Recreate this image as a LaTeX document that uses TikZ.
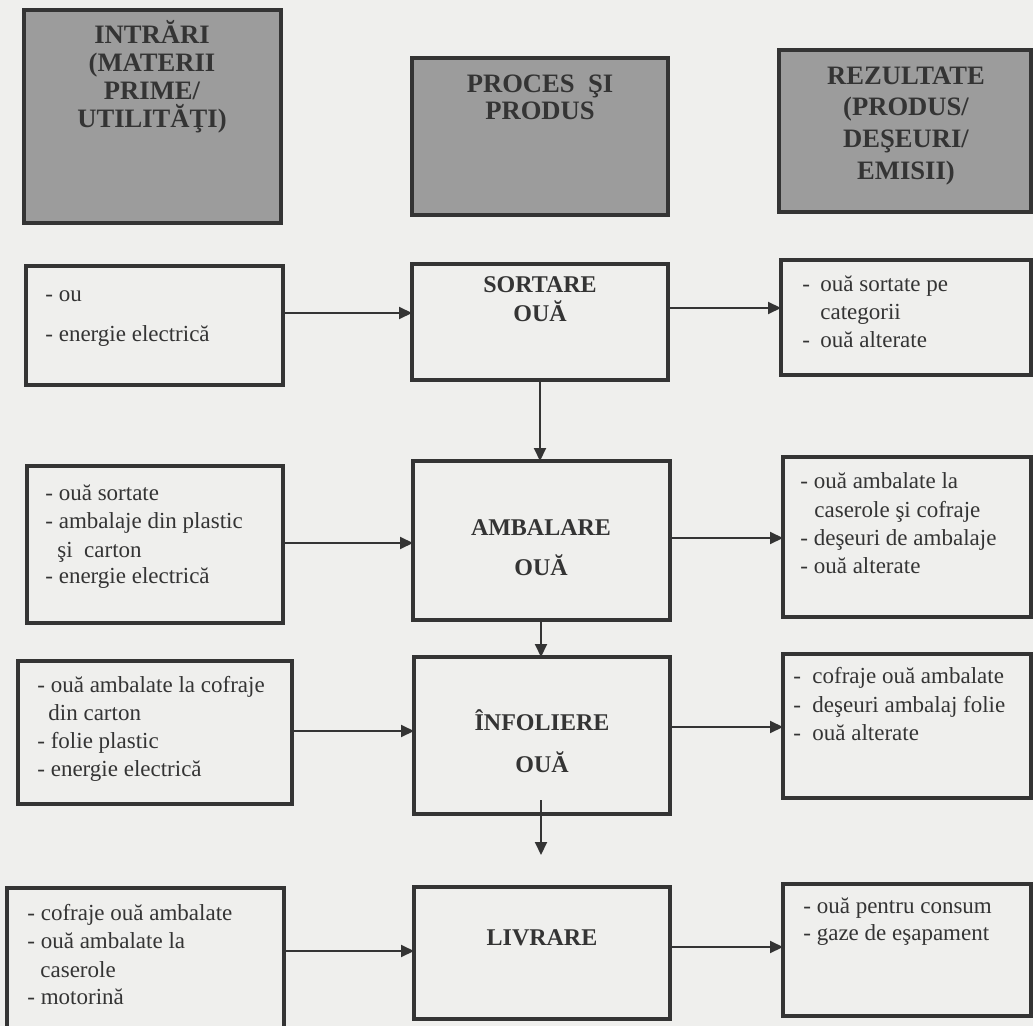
\documentclass[tikz,border=0pt]{standalone}
\usepackage{fontspec}
\setmainfont{Liberation Serif}
\usetikzlibrary{arrows.meta}
\definecolor{bg}{RGB}{239,239,237}
\definecolor{ink}{RGB}{52,52,52}
\definecolor{hdr}{RGB}{156,156,156}
\tikzset{
 boxline/.style={draw=ink, line width=1.6pt, inner sep=0pt, outer sep=0pt, rectangle},
 hdrbox/.style={boxline, fill=hdr},
 arr/.style={draw=ink, line width=1pt, -{Triangle[length=6.5pt,width=6pt]}},
 txt/.style={inner sep=0pt, anchor=base west, text=ink, font=\fontsize{11.5}{14}\selectfont},
 ctr/.style={inner sep=0pt, anchor=base, text=ink, font=\fontsize{12}{14}\selectfont\bfseries},
 htxt/.style={inner sep=0pt, anchor=base, text=ink, font=\fontsize{13.3}{14}\selectfont\bfseries},
}
\newcommand{\rbox}[6]{\node[#1, minimum width={(#4-#2)*0.5pt}, minimum height={(#5-#3)*0.5pt}] (#6) at ({(#2+#4)/2},{(#3+#5)/2}) {};}
\begin{document}
\begin{tikzpicture}[x=0.5pt,y=-0.5pt]
\clip (0,0) rectangle (1033,1026);
\fill[bg] (0,0) rectangle (1033,1026);

% header boxes
\rbox{hdrbox}{24}{10}{281}{223}{h1}
\rbox{hdrbox}{412}{58}{668}{215}{h2}
\rbox{hdrbox}{779}{50}{1031}{212}{h3}
\node[htxt] (h1a) at (152,44) {INTRĂRI};
\node[htxt] (h1b) at (152,72) {(MATERII};
\node[htxt] (h1c) at (152,100) {PRIME/};
\node[htxt] (h1d) at (152,128) {UTILITĂŢI)};
\node[htxt] (h2a) at (540,93) {PROCES\ \ ŞI};
\node[htxt] (h2b) at (540,120) {PRODUS};
\node[htxt] (h3a) at (906,85) {REZULTATE};
\node[htxt] (h3b) at (906,116) {(PRODUS/};
\node[htxt] (h3c) at (906,148) {DEŞEURI/};
\node[htxt] (h3d) at (906,180) {EMISII)};

% row 1
\rbox{boxline}{26}{266}{283}{385}{l1}
\rbox{boxline}{412}{264}{668}{380}{s1}
\rbox{boxline}{781}{260}{1031}{375}{r1}
\node[txt] (l1a) at (45,302) {- ou};
\node[txt] (l1b) at (45,342) {- energie electrică};
\node[ctr] (s1a) at (540,293) {SORTARE};
\node[ctr] (s1b) at (540,322) {OUĂ};
\node[txt] (r1d1) at (802,292) {-};
\node[txt] (r1a) at (820,292) {ouă sortate pe};
\node[txt] (r1b) at (820,320) {categorii};
\node[txt] (r1d2) at (802,348) {-};
\node[txt] (r1c) at (820,348) {ouă alterate};

% row 2
\rbox{boxline}{27}{466}{283}{623}{l2}
\rbox{boxline}{413}{461}{670}{620}{a1}
\rbox{boxline}{783}{457}{1031}{617}{r2}
\node[txt] (l2a) at (45,500) {- ouă sortate};
\node[txt] (l2b) at (45,528) {- ambalaje din plastic};
\node[txt] (l2c) at (57,557) {şi\ \ carton};
\node[txt] (l2d) at (45,583) {- energie electrică};
\node[ctr] (a1a) at (541,535) {AMBALARE};
\node[ctr] (a1b) at (541,575) {OUĂ};
\node[txt] (r2a) at (800,488) {- ouă ambalate la};
\node[txt] (r2b) at (814,517) {caserole şi cofraje};
\node[txt] (r2c) at (800,545) {- deşeuri de ambalaje};
\node[txt] (r2d) at (800,573) {- ouă alterate};

% row 3
\rbox{boxline}{18}{661}{292}{804}{l3}
\rbox{boxline}{414}{657}{670}{814}{i1}
\rbox{boxline}{783}{654}{1031}{798}{r3}
\node[txt] (l3a) at (37,692) {- ouă ambalate la cofraje};
\node[txt] (l3b) at (48,720) {din carton};
\node[txt] (l3c) at (37,748) {- folie plastic};
\node[txt] (l3d) at (37,776) {- energie electrică};
\node[ctr] (i1a) at (542,730) {ÎNFOLIERE};
\node[ctr] (i1b) at (542,772) {OUĂ};
\node[txt] (r3d1) at (793,683) {-};
\node[txt] (r3a) at (812,683) {cofraje ouă ambalate};
\node[txt] (r3d2) at (793,712) {-};
\node[txt] (r3b) at (812,712) {deşeuri ambalaj folie};
\node[txt] (r3d3) at (793,740) {-};
\node[txt] (r3c) at (812,740) {ouă alterate};

% row 4
\rbox{boxline}{7}{888}{284}{1040}{l4}
\rbox{boxline}{414}{887}{670}{1019}{lv}
\rbox{boxline}{783}{884}{1031}{1016}{r4}
\node[txt] (l4a) at (27,920) {- cofraje ouă ambalate};
\node[txt] (l4b) at (27,948) {- ouă ambalate la};
\node[txt] (l4c) at (40,977) {caserole};
\node[txt] (l4d) at (27,1004) {- motorină};
\node[ctr] (lva) at (542,945) {LIVRARE};
\node[txt] (r4a) at (803,913) {- ouă pentru consum};
\node[txt] (r4b) at (803,940) {- gaze de eşapament};

% connectors
\draw[arr] (l1.east |- 0,313) -- (s1.west |- 0,313);
\draw[arr] (s1.east |- 0,308) -- (r1.west |- 0,308);
\draw[arr] (l2.east |- 0,543) -- (a1.west |- 0,543);
\draw[arr] (a1.east |- 0,538) -- (r2.west |- 0,538);
\draw[arr] (l3.east |- 0,731) -- (i1.west |- 0,731);
\draw[arr] (i1.east |- 0,727) -- (r3.west |- 0,727);
\draw[arr] (l4.east |- 0,951) -- (lv.west |- 0,951);
\draw[arr] (lv.east |- 0,947) -- (r4.west |- 0,947);
\draw[arr] (540,380) coordinate (s1out) -- (540,461) coordinate (a1in);
\draw[arr] (541,620) coordinate (a1out) -- (541,657) coordinate (i1in);
\coordinate (i1out) at (541,800);
\coordinate (lvin) at (541,855);
\draw[arr] (i1out) -- (lvin);
\end{tikzpicture}
\end{document}
